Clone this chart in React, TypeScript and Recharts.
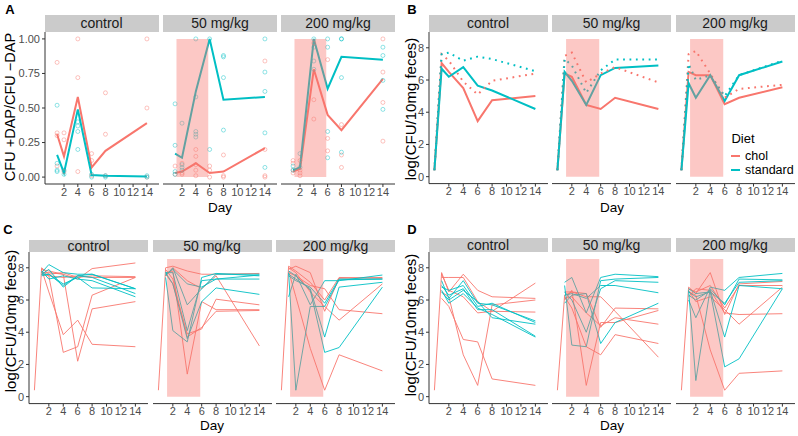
import React from 'react';
import { ComposedChart, Line, Scatter, XAxis, YAxis, ReferenceArea } from 'recharts';

const FACETS = ['control', '50 mg/kg', '200 mg/kg'];
const DIETS = ['chol', 'standard'];
const CHOL = '#F8766D';
const STD = '#00BFC4';
const DAY_TICKS = [2, 4, 6, 8, 10, 12, 14];
const RATIO_TICKS = [0, 0.25, 0.5, 0.75, 1];
const LOG_TICKS = [0, 2, 4, 6, 8];

// A: ratio of CFU with / without DAP
const A_DAYS = [1, 2, 4, 6, 8, 14];
const A_CHOL_MEAN = [
  [0.31, 0.15, 0.58, 0.07, 0.19, 0.39],
  [0.03, 0.04, 0.1, 0.03, 0.04, 0.21],
  [0.04, 0.06, 0.78, 0.45, 0.34, 0.71],
];
const A_STD_MEAN = [
  [0.16, 0.03, 0.49, 0.015, 0.01, 0.005],
  [0.17, 0.14, 0.62, 1.0, 0.56, 0.58],
  [0.05, 0.07, 1.0, 0.64, 0.87, 0.85],
];
const A_CHOL_PTS = [
  [[0.83, 0.32, 0.3, 0.08], [0.32, 0.27, 0.04], [1.0, 0.72, 0.04], [0.17, 0.12, 0.01], [0.61, 0.31, 0.01], [1.0, 0.5, 0.0]],
  [[0.08, 0.02], [0.1, 0.03, 0.02], [0.2, 0.15, 0.09, 0.05, 0.01], [0.08, 0.05, 0.0], [0.16, 0.01, 0.0], [0.84, 0.2, 0.01, 0.0]],
  [[0.12, 0.1, 0.05, 0.03], [0.12, 0.05, 0.03, 0.01], [0.97, 0.56, 0.42], [0.85, 0.28, 0.19], [0.38, 0.16, 0.07], [1.0, 0.76, 0.54, 0.26]],
];
const A_STD_PTS = [
  [[0.52, 0.1, 0.05, 0.04], [0.05, 0.02], [0.4, 0.37, 0.33, 0.2], [0.02, 0.0], [0.01, 0.0], [0.0, 0.01]],
  [[0.53, 0.23, 0.04, 0.02], [0.39, 0.09, 0.07, 0.05], [1.0, 0.58, 0.33, 0.31, 0.29], [1.0, 0.2], [0.88, 0.87, 0.72, 0.34], [1.0, 0.76, 0.62, 0.32, 0.07]],
  [[0.08, 0.05], [0.17, 0.07], [1.0, 0.94, 0.84, 0.78], [1.0, 0.94, 0.33, 0.14], [1.0, 1.0, 0.72, 0.18], [0.94, 0.88, 0.7, 0.49]],
];

// B: summary lines, solid and dotted
const B_DAYS = [0, 1, 2, 4, 6, 8, 14];
const B_CHOL_SOLID = [
  [0.4, 7.05, 6.5, 5.5, 3.45, 4.75, 5.0],
  [0.4, 6.4, 6.2, 4.45, 4.2, 4.9, 4.2],
  [0.4, 6.5, 6.3, 6.3, 4.5, 4.9, 5.55],
];
const B_STD_SOLID = [
  [0.4, 6.7, 6.2, 6.8, 5.65, 5.35, 4.2],
  [0.4, 6.5, 5.95, 4.45, 6.3, 6.75, 6.9],
  [0.4, 5.8, 4.9, 6.3, 4.7, 6.3, 7.15],
];
const B_CHOL_DOT = [
  [0.4, 7.6, 7.2, 5.9, 5.1, 5.95, 6.4],
  [0.4, 7.5, 7.7, 5.85, 6.4, 6.8, 5.85],
  [0.4, 7.6, 7.8, 6.4, 4.9, 5.45, 5.7],
];
const B_STD_DOT = [
  [0.4, 7.6, 7.7, 7.2, 7.45, 7.3, 6.55],
  [0.4, 7.3, 6.9, 5.2, 6.6, 7.27, 7.27],
  [0.4, 7.0, 6.0, 6.3, 5.0, 6.3, 7.2],
];

// C and D: one line per mouse
const MOUSE_DAYS = [1, 2, 4, 6, 8, 14];
const START_DAY = 0;
const START_VALUE = 0.4;
const C_CHOL = [
  [[8.0, 7.6, 7.7, 7.4, 7.5, 7.45], [7.9, 7.8, 7.6, 7.3, 7.95, 8.3], [7.9, 6.5, 3.85, 4.75, 3.25, 3.1],
   [7.8, 7.5, 2.75, 3.1, 6.3, 7.4], [7.7, 7.7, 7.6, 2.2, 5.45, 5.9], [7.6, 7.5, 7.4, 7.5, 7.4, 7.4]],
  [[8.0, 8.1, 7.8, 7.6, 7.6, 7.65], [7.7, 7.8, 1.4, 5.9, 5.4, 5.4], [7.6, 7.0, 3.9, 4.2, 6.05, 5.7],
   [7.5, 8.0, 7.2, 6.7, 7.5, 3.15], [7.9, 7.3, 3.7, 4.3, 5.3, 5.35]],
  [[8.1, 7.8, 7.1, 6.0, 7.4, 7.35], [7.9, 8.1, 7.7, 5.3, 7.35, 7.4], [7.7, 7.5, 6.9, 6.7, 5.4, 5.15],
   [7.8, 6.2, 3.0, 0.4, 2.6, 1.6], [8.0, 7.7, 6.5, 5.6, 4.75, 7.0]],
];
const C_STD = [
  [[7.7, 8.2, 7.7, 7.6, 7.6, 6.7], [7.6, 7.9, 6.8, 7.5, 7.6, 6.7], [7.5, 7.6, 7.0, 7.4, 6.75, 6.7],
   [7.8, 7.3, 7.5, 7.3, 7.2, 6.2], [7.6, 7.6, 6.9, 7.5, 7.4, 6.4]],
  [[7.6, 7.9, 7.0, 6.8, 7.3, 7.3], [7.5, 8.0, 5.7, 6.7, 7.6, 7.6], [7.4, 4.1, 3.4, 7.4, 7.65, 7.5],
   [7.7, 7.0, 3.6, 5.9, 6.75, 6.35], [7.7, 7.7, 4.1, 7.2, 7.3, 7.55]],
  [[7.7, 0.4, 5.6, 5.6, 7.25, 7.3], [7.6, 7.3, 6.7, 3.7, 6.8, 7.1], [6.2, 7.6, 5.7, 7.2, 7.2, 7.55],
   [7.8, 7.5, 6.6, 2.75, 3.05, 6.8], [7.5, 7.2, 6.8, 5.8, 7.3, 7.3]],
];
const D_CHOL = [
  [[7.7, 6.5, 7.6, 6.6, 6.2, 6.1], [7.4, 7.4, 7.4, 5.9, 5.3, 7.05], [6.1, 5.6, 3.55, 3.4, 1.1, 0.7],
   [6.5, 6.2, 2.6, 0.7, 5.7, 6.0], [7.6, 6.6, 6.2, 5.2, 5.3, 5.25]],
  [[6.3, 6.5, 6.2, 6.2, 5.3, 2.45], [6.0, 6.6, 0.7, 4.6, 4.6, 5.35], [6.2, 5.5, 3.1, 2.6, 3.85, 3.3],
   [6.5, 6.5, 6.4, 4.3, 5.5, 5.45], [6.1, 6.2, 5.2, 4.4, 4.9, 4.5]],
  [[6.8, 6.4, 7.7, 5.1, 7.0, 7.15], [6.7, 6.5, 6.9, 5.5, 6.9, 6.9], [6.6, 5.9, 6.2, 5.4, 4.5, 6.8],
   [6.5, 6.3, 2.9, 0.4, 1.45, 1.6], [6.2, 6.7, 6.6, 5.2, 5.1, 5.15]],
];
const D_STD = [
  [[7.2, 6.1, 7.2, 5.8, 5.7, 4.7], [6.8, 6.6, 6.9, 5.6, 5.8, 4.6], [6.5, 6.0, 6.6, 5.9, 4.9, 4.5],
   [6.6, 5.8, 6.4, 5.5, 5.1, 3.7], [6.9, 6.3, 6.7, 5.4, 5.4, 3.75]],
  [[7.1, 7.4, 5.2, 7.4, 7.6, 7.45], [6.9, 3.2, 3.1, 7.2, 7.3, 7.4], [5.8, 6.3, 6.4, 3.3, 4.6, 5.8],
   [6.5, 6.0, 4.0, 6.7, 7.2, 7.1], [6.3, 6.4, 6.1, 6.9, 6.9, 6.45]],
  [[6.6, 1.0, 6.7, 5.7, 7.3, 7.25], [6.3, 6.0, 6.6, 3.7, 6.9, 6.7], [6.0, 4.9, 6.8, 6.6, 7.4, 7.65],
   [6.5, 6.2, 6.5, 1.85, 2.35, 6.7], [6.7, 6.4, 6.5, 5.8, 7.1, 7.2]],
];

// treatment window (drawn only in the treated facets)
const TREATED = [false, true, true];
const TREAT_START = 1.2;
const TREAT_END = 5.8;
const LOG_BAND_TOP = 8.55;

const X_DOMAIN = [-0.75, 15.75];
const RATIO_DOMAIN = [-0.05, 1.05];
const LOG_DOMAIN = [-0.43, 8.98];
const FONT = '"Liberation Sans", Arial, Helvetica, sans-serif';
const AXIS = '#333333';
const X_AXIS_H = 22;

const toPts = (days: number[], vals: number[]) => days.map((d, i) => ({ day: d, v: vals[i] }));

const hollow = (color: string) => (p: any) => (
  <circle cx={p.cx} cy={p.cy} r={2} fill="none" stroke={color} strokeOpacity={0.55} strokeWidth={0.8} />
);

function facet(opts: {
  key: string; left: number; top: number; width: number; height: number;
  yDomain: number[]; yTicks: number[]; yFmt?: (v: number) => string; showY: boolean; yW: number;
  band: boolean; bandTop: number; series: React.ReactNode[];
}) {
  const yW = opts.showY ? opts.yW : 0;
  const w = opts.width + yW;
  const h = opts.height + X_AXIS_H;
  const m = { top: 0, right: 0, bottom: 0, left: 0 };
  const pos: React.CSSProperties = { position: 'absolute', left: opts.left - yW, top: opts.top };
  return (
    <React.Fragment key={opts.key}>
      <div style={pos}>
        <ComposedChart width={w} height={h} margin={m}>
          <XAxis type="number" dataKey="day" domain={X_DOMAIN} ticks={DAY_TICKS} interval={0} allowDataOverflow
            height={X_AXIS_H} tickSize={3} tickMargin={1}
            tick={{ fontSize: 11, fill: '#4D4D4D' }} axisLine={{ stroke: AXIS }} tickLine={{ stroke: AXIS }} />
          <YAxis type="number" dataKey="v" domain={opts.yDomain} ticks={opts.yTicks} interval={0} allowDataOverflow
            hide={!opts.showY} width={yW} tickSize={3} tickMargin={2} tickFormatter={opts.yFmt}
            tick={{ fontSize: 11, fill: '#4D4D4D' }} axisLine={{ stroke: AXIS }} tickLine={{ stroke: AXIS }} />
          {opts.series}
        </ComposedChart>
      </div>
      {opts.band && (
        // translucent band laid over the lines, as in the original
        <div style={{ ...pos, pointerEvents: 'none' }}>
          <ComposedChart width={w} height={h} margin={m} data={[{ day: 0, v: 0 }]}>
            <XAxis type="number" dataKey="day" domain={X_DOMAIN} allowDataOverflow height={X_AXIS_H}
              tick={false} tickLine={false} axisLine={false} />
            <YAxis type="number" dataKey="v" domain={opts.yDomain} allowDataOverflow hide={!opts.showY} width={yW}
              tick={false} tickLine={false} axisLine={false} />
            <Line dataKey="v" stroke="none" dot={false} activeDot={false} isAnimationActive={false} />
            <ReferenceArea x1={TREAT_START} x2={TREAT_END} y1={0} y2={opts.bandTop} fill={CHOL} fillOpacity={0.4} stroke="none" />
          </ComposedChart>
        </div>
      )}
    </React.Fragment>
  );
}

const strip = (key: string, left: number, top: number, width: number, height: number, label: string) => (
  <div key={key} style={{
    position: 'absolute', left, top, width, height, background: '#CBCBCB', color: '#1A1A1A',
    fontSize: 14, lineHeight: `${height}px`, textAlign: 'center', whiteSpace: 'nowrap',
  }}>{label}</div>
);

const txt = (key: string, x: number, y: number, s: string, size: number, extra: React.CSSProperties = {}) => (
  <div key={key} style={{
    position: 'absolute', left: x, top: y, transform: 'translate(-50%, -50%)', fontSize: size,
    whiteSpace: 'nowrap', color: '#000', ...extra,
  }}>{s}</div>
);

export default function App() {
  const FW = 119;
  const out: React.ReactNode[] = [];

  // Panel A
  const aLefts = [44.5, 163, 281];
  aLefts.forEach((l, f) => {
    const series: React.ReactNode[] = [];
    [A_CHOL_PTS, A_STD_PTS].forEach((pts, k) => {
      const data = A_DAYS.flatMap((d, i) => pts[f][i].map((v) => ({ day: d, v })));
      const c = k === 0 ? CHOL : STD;
      series.push(<Scatter key={`ap${k}`} data={data} dataKey="v" shape={hollow(c)} isAnimationActive={false} />);
    });
    [A_CHOL_MEAN, A_STD_MEAN].forEach((m, k) => {
      series.push(<Line key={`al${k}`} data={toPts(A_DAYS, m[f])} dataKey="v" stroke={k === 0 ? CHOL : STD}
        strokeWidth={2} dot={false} activeDot={false} isAnimationActive={false} />);
    });
    out.push(facet({ key: `A${f}`, left: l, top: 32, width: 114, height: 152, yDomain: RATIO_DOMAIN,
      yTicks: RATIO_TICKS, yFmt: (v) => v.toFixed(2), showY: f === 0, yW: 30, band: TREATED[f], bandTop: 1, series }));
    out.push(strip(`As${f}`, l, 15, 114, 17, FACETS[f]));
  });

  // Panel B
  const bLefts = [428.5, 552, 675.5];
  bLefts.forEach((l, f) => {
    const series: React.ReactNode[] = [];
    [B_CHOL_SOLID, B_STD_SOLID].forEach((m, k) => {
      series.push(<Line key={`bs${k}`} data={toPts(B_DAYS, m[f])} dataKey="v" stroke={k === 0 ? CHOL : STD}
        strokeWidth={2} dot={false} activeDot={false} isAnimationActive={false} />);
    });
    [B_CHOL_DOT, B_STD_DOT].forEach((m, k) => {
      series.push(<Line key={`bd${k}`} data={toPts(B_DAYS, m[f])} dataKey="v" stroke={k === 0 ? CHOL : STD}
        strokeWidth={2} strokeDasharray="1.8 4.6" dot={false} activeDot={false} isAnimationActive={false} />);
    });
    out.push(facet({ key: `B${f}`, left: l, top: 32, width: FW, height: 151.6, yDomain: LOG_DOMAIN,
      yTicks: LOG_TICKS, showY: f === 0, yW: 20, band: TREATED[f], bandTop: LOG_BAND_TOP, series }));
    out.push(strip(`Bs${f}`, l, 15, FW, 17, FACETS[f]));
  });

  // Panels C and D
  const mice = (chol: number[][][], std: number[][][], f: number, p: string) => {
    const series: React.ReactNode[] = [];
    chol[f].forEach((m, i) => {
      const data = toPts(MOUSE_DAYS, m);
      if (i === 0) data.unshift({ day: START_DAY, v: START_VALUE });
      series.push(<Line key={`${p}c${i}`} data={data} dataKey="v" stroke={CHOL} strokeWidth={0.9}
        dot={false} activeDot={false} isAnimationActive={false} />);
    });
    std[f].forEach((m, i) => {
      series.push(<Line key={`${p}s${i}`} data={toPts(MOUSE_DAYS, m)} dataKey="v" stroke={STD} strokeWidth={0.9}
        dot={false} activeDot={false} isAnimationActive={false} />);
    });
    return series;
  };
  const cLefts = [29, 152.5, 276];
  cLefts.forEach((l, f) => {
    out.push(facet({ key: `C${f}`, left: l, top: 252, width: FW, height: 151.6, yDomain: LOG_DOMAIN,
      yTicks: LOG_TICKS, showY: f === 0, yW: 20, band: TREATED[f], bandTop: LOG_BAND_TOP, series: mice(C_CHOL, C_STD, f, 'c') }));
    out.push(strip(`Cs${f}`, l, 240, FW, 12, FACETS[f]));
  });
  bLefts.forEach((l, f) => {
    out.push(facet({ key: `D${f}`, left: l, top: 252, width: FW, height: 151.6, yDomain: LOG_DOMAIN,
      yTicks: LOG_TICKS, showY: f === 0, yW: 20, band: TREATED[f], bandTop: LOG_BAND_TOP, series: mice(D_CHOL, D_STD, f, 'd') }));
    out.push(strip(`Ds${f}`, l, 238, FW, 14, FACETS[f]));
  });

  const bold = { fontWeight: 700 };
  const rot = { transform: 'translate(-50%, -50%) rotate(-90deg)' };
  return (
    <div style={{ position: 'absolute', left: 0, top: 0, width: 798, height: 436, background: '#fff', fontFamily: FONT, overflow: 'hidden' }}>
      {out}
      {txt('la', 10, 9, 'A', 13, bold)}
      {txt('lb', 412, 9, 'B', 13, bold)}
      {txt('lc', 8, 229, 'C', 13, bold)}
      {txt('ld', 412, 229, 'D', 13, bold)}
      {txt('ya', 10, 107, 'CFU +DAP/CFU \u2212DAP', 14.5, rot)}
      {txt('yb', 410, 109, 'log(CFU/10mg feces)', 15, rot)}
      {txt('yc', 10, 321, 'log(CFU/10mg feces)', 15, rot)}
      {txt('yd', 410, 325, 'log(CFU/10mg feces)', 15, rot)}
      {txt('xa', 220, 207, 'Day', 13.5)}
      {txt('xb', 612, 207, 'Day', 13.5)}
      {txt('xc', 212, 425, 'Day', 13.5)}
      {txt('xd', 612, 425, 'Day', 13.5)}
      {txt('lg', 743, 138, 'Diet', 13)}
      {DIETS.map((d, i) => (
        <React.Fragment key={d}>
          <div style={{ position: 'absolute', left: 731, top: 155 + i * 14, width: 9, height: 2, background: i === 0 ? CHOL : STD }} />
          <div style={{ position: 'absolute', left: 745, top: 156 + i * 14, transform: 'translateY(-50%)', fontSize: 12.5, lineHeight: '13px', whiteSpace: 'nowrap' }}>{d}</div>
        </React.Fragment>
      ))}
    </div>
  );
}
